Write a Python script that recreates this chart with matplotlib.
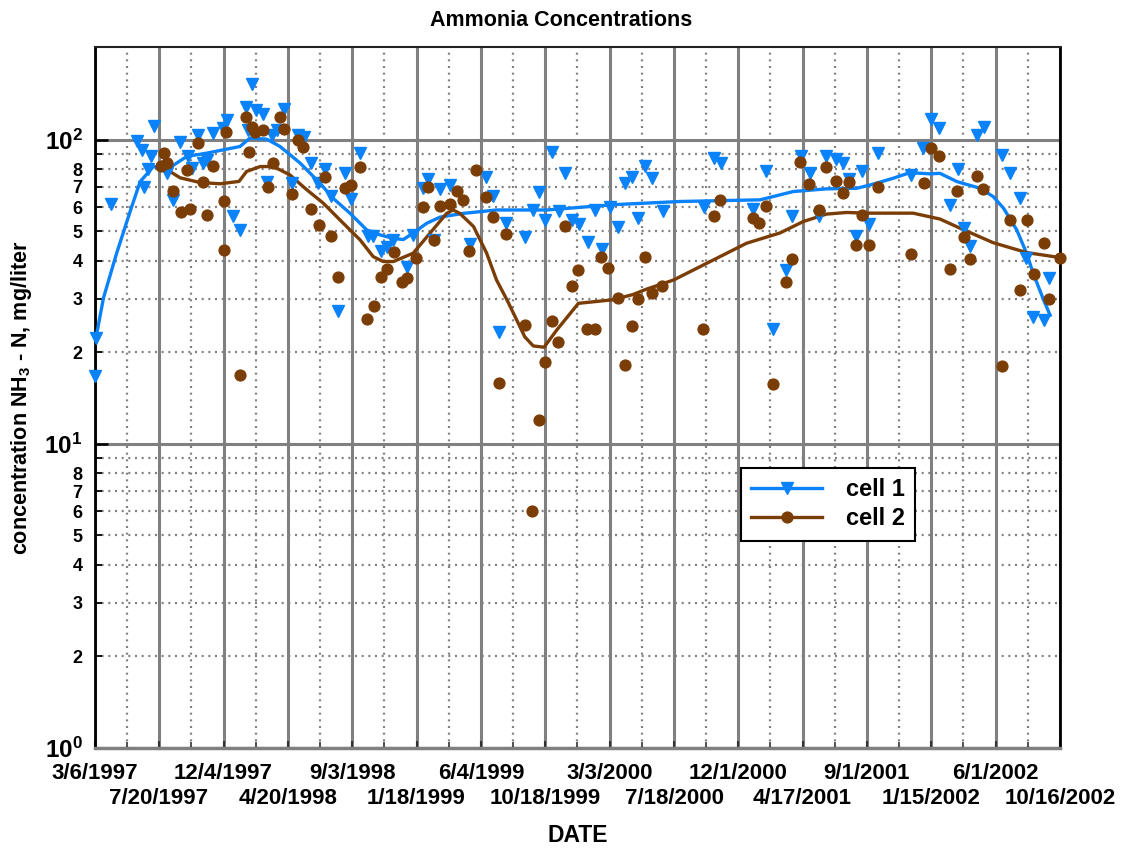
import numpy as np
import pandas as pd
import matplotlib
matplotlib.use('Agg')
import matplotlib.pyplot as plt
from matplotlib.lines import Line2D
from matplotlib.ticker import FixedLocator, FixedFormatter

plt.rcParams['font.family'] = ['Liberation Sans', 'DejaVu Sans']
plt.rcParams['font.weight'] = 'bold'
plt.rcParams['mathtext.fontset'] = 'custom'
plt.rcParams['mathtext.rm'] = 'Liberation Sans:bold'
plt.rcParams['mathtext.it'] = 'Liberation Sans:bold'
plt.rcParams['mathtext.bf'] = 'Liberation Sans:bold'

# sampling day (days after 3/6/1997) and NH3-N concentration, mg/liter
start = pd.Timestamp('1997-03-06')

cell1_day = [0, 2, 35, 90, 99, 104, 112, 120, 126, 152, 165, 181, 198, 205, 219, 230, 237,
             251, 271, 280, 294, 307, 321, 326, 334, 342, 356, 365, 375, 387, 402, 418, 432,
             444, 459, 474, 489, 501, 516, 531, 543, 564, 579, 591, 608, 620, 634, 663, 676,
             697, 708, 721, 733, 754, 797, 831, 846, 858, 873, 913, 930, 944, 956, 970, 986,
             998, 1013, 1028, 1048, 1062, 1076, 1094, 1110, 1126, 1141, 1154, 1168, 1183,
             1206, 1294, 1314, 1329, 1397, 1425, 1440, 1468, 1481, 1499, 1519, 1539, 1552,
             1574, 1588, 1602, 1617, 1630, 1645, 1664, 1733, 1760, 1777, 1794, 1816, 1833,
             1846, 1859, 1873, 1889, 1926, 1944, 1965, 1978, 1993, 2015, 2027]
cell1_conc = [16.7, 22.3, 61.6, 99.5, 92.7, 70, 80.2, 88.6, 111, 77.9, 63.5, 98.7, 88.6, 81,
              104, 84.2, 86, 105.7, 109.8, 116, 56.2, 50.6, 128, 108, 153, 125, 122, 72.9,
              104, 108, 126.5, 72, 104, 102, 83.8, 72, 80, 65.4, 27.4, 78, 64, 90.8, 48.4,
              48.4, 43.2, 44.4, 46.7, 38.3, 48.7, 69.3, 74.2, 47, 68.8, 71, 45.4, 75.7, 65.4,
              23.4, 53.4, 47.9, 58.8, 67.6, 54.3, 91.5, 58.5, 78, 54.3, 53, 46.3, 58.8, 43.6,
              60.3, 51.6, 72, 75.2, 55.5, 82.3, 74.8, 58.4, 60.3, 87.4, 83.8, 59.2, 78.7,
              23.8, 37.3, 56.2, 88.2, 78, 56.2, 88.6, 86.4, 83.8, 74.2, 48.3, 78.7, 52.9,
              90.4, 76.7, 94.3, 117.5, 109.3, 61.2, 80, 51.2, 44.8, 104, 110.6, 89.3, 78,
              64.3, 40.8, 26.2, 25.6, 35]

cell2_day = [140, 147, 154, 166, 183, 196, 202, 219, 230, 237, 250, 273, 278, 274, 307, 320,
             328, 334, 340, 356, 367, 378, 392, 402, 418, 432, 441, 459, 476, 489, 501, 516,
             531, 544, 564, 578, 593, 608, 621, 636, 652, 663, 681, 697, 708, 721, 733, 754,
             768, 781, 795, 809, 831, 845, 858, 873, 913, 929, 943, 956, 970, 984, 998, 1013,
             1027, 1046, 1062, 1075, 1090, 1110, 1126, 1141, 1154, 1168, 1183, 1204, 1292,
             1314, 1328, 1397, 1411, 1425, 1440, 1468, 1481, 1498, 1517, 1539, 1552, 1574,
             1588, 1602, 1616, 1630, 1644, 1664, 1733, 1761, 1776, 1794, 1816, 1831, 1846,
             1859, 1873, 1887, 1926, 1944, 1965, 1979, 1995, 2016, 2027, 2050]
cell2_conc = [82.3, 90.8, 83.8, 68, 58.1, 79.7, 59.2, 97.5, 72.9, 56.6, 82.3, 62.7, 106.5,
              43.5, 16.8, 118.8, 91.5, 110.6, 106, 108, 70.2, 83.8, 118.8, 108.4, 66.5, 100,
              94.6, 59.2, 52.5, 75.2, 48.4, 35.3, 69.7, 71, 81.7, 25.8, 28.5, 35.3, 37.5,
              42.9, 34.2, 35, 40.8, 60, 70.2, 47, 60.7, 61.6, 68.1, 63.5, 43.2, 79.7, 65,
              55.7, 15.9, 49.1, 24.6, 6, 12, 18.6, 25.3, 21.7, 52.2, 33.1, 37.2, 23.8, 23.8,
              41.1, 37.8, 30.2, 18.2, 24.4, 30, 41.1, 31.3, 33.1, 23.8, 56.2, 63.5, 55.2,
              53.4, 60.7, 15.8, 34, 40.5, 84.8, 71.6, 58.8, 81.7, 73.5, 66.8, 72.5, 45.1,
              56.6, 45.1, 70.2, 42.1, 72, 93.9, 88.8, 37.5, 68.1, 48, 40.6, 76.3, 68.8, 18,
              54.6, 32.1, 54.6, 36.2, 45.7, 29.9, 41]

# smoothed trend curves
cell1_fit_day = [2, 18, 46, 78, 96, 124, 152, 195, 237, 308, 329, 365, 393, 436, 478, 506,
                 542, 577, 605, 634, 655, 676, 705, 733, 782, 853, 960, 1101, 1243, 1413,
                 1483, 1554, 1618, 1646, 1696, 1731, 1774, 1795, 1831, 1880, 1908, 1930,
                 1958, 1979, 1993, 2015, 2029]
cell1_fit = [22.3, 30.2, 42.4, 60.3, 72.9, 81.7, 79.7, 88.2, 90.4, 95.1, 101.3, 100.5, 95.1,
             83.8, 72, 64.2, 57.3, 50.6, 48.7, 47.4, 47, 49.4, 53.2, 55.7, 57.3, 58.8, 58.8,
             61.2, 62.7, 63.5, 67.6, 69, 69.3, 71, 74.8, 78, 77.3, 77.6, 72.9, 69.3, 65.1,
             59.6, 50.6, 42.4, 36.4, 29.8, 26.5]

cell2_fit_day = [138, 181, 223, 266, 306, 322, 351, 379, 414, 450, 485, 520, 563, 591, 612,
                 634, 676, 712, 747, 761, 775, 804, 832, 853, 875, 889, 913, 931, 954, 981,
                 1027, 1101, 1143, 1172, 1229, 1314, 1384, 1455, 1505, 1554, 1597, 1639,
                 1738, 1795, 1838, 1908, 1979, 2050]
cell2_fit = [82.5, 75, 72.4, 71.7, 73, 78.7, 81.7, 81.7, 76.7, 68.5, 61.9, 54.6, 46.9, 41.3,
             39.8, 39.8, 42.4, 49.4, 57.3, 58.8, 57.3, 51.9, 42.4, 34.6, 29.8, 26.9, 22.5,
             21, 20.8, 23.7, 29, 29.8, 31, 32.3, 34.6, 40.3, 45.7, 49.4, 53.9, 57, 57.7,
             57.4, 57.4, 54.9, 51.2, 45.9, 42.6, 41]

date_labels = ['3/6/1997', '7/20/1997', '12/4/1997', '4/20/1998', '9/3/1998', '1/18/1999',
               '6/4/1999', '10/18/1999', '3/3/2000', '7/18/2000', '12/1/2000', '4/17/2001',
               '9/1/2001', '1/15/2002', '6/1/2002', '10/16/2002']

y_major = [1, 10, 100]
y_major_labels = ['$10^{0}$', '$10^{1}$', '$10^{2}$']
y_minor = [2, 3, 4, 5, 6, 7, 8, 9, 20, 30, 40, 50, 60, 70, 80, 90]
y_minor_labels = ['2', '3', '4', '5', '6', '7', '8', '', '2', '3', '4', '5', '6', '7', '8', '']

blue = '#0a82fa'
brown = '#7b3d06'
grey = '#808080'


def to_dates(days):
    return start + pd.to_timedelta(np.asarray(days), unit='D')


fig = plt.figure(figsize=(11.22, 8.5), dpi=100)
ax = fig.add_axes([95 / 1122, 102 / 850, 965 / 1122, 701 / 850])
ax.set_yscale('log')

ax.plot(to_dates(cell1_fit_day), cell1_fit, color=blue, lw=2.4, zorder=3)
ax.plot(to_dates(cell2_fit_day), cell2_fit, color=brown, lw=2.4, zorder=3)
ax.plot(to_dates(cell1_day), cell1_conc, ls='none', marker='v', ms=8.2, color=blue,
        mec=blue, clip_on=False, zorder=4)
ax.plot(to_dates(cell2_day), cell2_conc, ls='none', marker='o', ms=7.8, color=brown,
        mec=brown, clip_on=False, zorder=4)

# x axis: date ticks, labels staggered over two rows
ticks = pd.to_datetime(date_labels, format='%m/%d/%Y')
mids = ticks[:-1] + (ticks[1:] - ticks[:-1]) / 2
ax.set_xlim(ticks[0], ticks[-1])
ax.set_xticks(ticks)
ax.set_xticks(mids, minor=True)
ax.tick_params(axis='x', labelbottom=False)
for i, (t, lab) in enumerate(zip(ticks, date_labels)):
    ax.annotate(lab, xy=(t, 0), xycoords=('data', 'axes fraction'),
                xytext=(0, -11 - 18 * (i % 2)), textcoords='offset points',
                ha='center', va='top', fontsize=16, fontweight='bold')

ax.set_ylim(1, 202)
ax.yaxis.set_major_locator(FixedLocator(y_major))
ax.yaxis.set_major_formatter(FixedFormatter(y_major_labels))
ax.yaxis.set_minor_locator(FixedLocator(y_minor))
ax.yaxis.set_minor_formatter(FixedFormatter(y_minor_labels))

ax.grid(which='major', color=grey, lw=2.2, ls='-', zorder=1)
ax.grid(which='minor', color=grey, lw=1.6, ls=(0, (0.9, 2.1)), zorder=1)

ax.tick_params(axis='x', which='major', direction='in', length=5, width=1.5,
               color='#333333')
ax.tick_params(axis='x', which='minor', direction='in', length=4, width=1.2,
               color='#333333')
ax.tick_params(axis='y', which='major', direction='in', length=9, width=1.8,
               labelsize=17.5, pad=9, color='black')
ax.tick_params(axis='y', which='minor', direction='in', length=5, width=1.3,
               labelsize=13, pad=9, color='black')

for side in ['left', 'right']:
    ax.spines[side].set_linewidth(2)
    ax.spines[side].set_color('black')
ax.spines['top'].set_linewidth(1.5)
ax.spines['top'].set_color('#222222')
ax.spines['bottom'].set_linewidth(2.5)
ax.spines['bottom'].set_color(grey)

fig.text(0.5, 1 - 20 / 850, 'Ammonia Concentrations', ha='center', va='center',
         fontsize=15.5, fontweight='bold')
fig.text(577.5 / 1122, 1 - 836 / 850, 'DATE', ha='center', va='center',
         fontsize=16.5, fontweight='bold')
fig.text(22 / 1122, 1 - 398 / 850, 'concentration NH$_3$ - N, mg/liter', rotation=90,
         ha='center', va='center', fontsize=15.5, fontweight='bold')

handles = [Line2D([], [], color=blue, lw=2.4, marker='v', ms=8.2),
           Line2D([], [], color=brown, lw=2.4, marker='o', ms=7.8)]
leg = ax.legend(handles, ['cell 1', 'cell 2'], loc='upper left',
                bbox_to_anchor=(0.669, 0.40), borderaxespad=0, fontsize=17,
                handlelength=3.0, handletextpad=1.0, borderpad=0.45, labelspacing=0.25,
                fancybox=False, framealpha=1, edgecolor='black', numpoints=1)
leg.get_frame().set_linewidth(1.5)
leg.set_zorder(5)

fig.savefig('out.png', dpi=100)
